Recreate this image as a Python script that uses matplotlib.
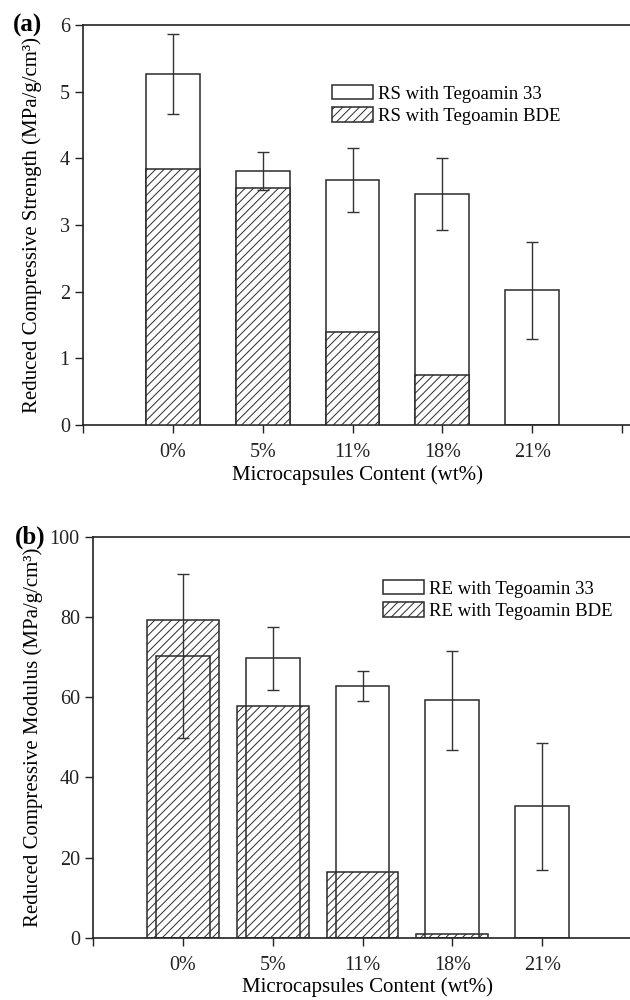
import numpy as np
import matplotlib
matplotlib.use("Agg")
import matplotlib.pyplot as plt

plt.rcParams['font.family'] = ['Liberation Serif', 'DejaVu Serif']
plt.rcParams['hatch.linewidth'] = 0.7

# ---- data ----
categories = ['0%', '5%', '11%', '18%', '21%']

rs_33 = [5.27, 3.81, 3.67, 3.47, 2.02]
rs_33_err = [0.60, 0.28, 0.48, 0.54, 0.73]
rs_bde = [3.84, 3.56, 1.40, 0.75]

re_33 = [70.3, 69.7, 62.8, 59.2, 32.8]
re_33_err = [20.4, 7.9, 3.7, 12.4, 15.8]
re_bde = [79.3, 57.8, 16.4, 1.0]

edge = '#2a2a2a'
x = np.arange(len(categories))

fig = plt.figure(figsize=(6.3, 10), dpi=100)


def style_axes(ax, ylim, yticks):
    ax.set_xlim(-1, 5.1)
    ax.set_ylim(*ylim)
    ax.set_yticks(yticks)
    ax.set_xticks(np.arange(-1, 6))
    ax.set_xticklabels([''] + categories + [''])
    ax.tick_params(direction='out', length=6, width=1, labelsize=14.5,
                   colors='#222222')
    ax.tick_params(axis='x', pad=7)
    ax.spines['right'].set_visible(False)
    for s in ['left', 'top', 'bottom']:
        ax.spines[s].set_linewidth(1.2)
        ax.spines[s].set_color('#222222')


# ==========================
# (a) compressive strength
# ==========================
ax1 = fig.add_axes([83 / 630, 0.575, 548 / 630, 0.40])
ax1.bar(x, rs_33, width=0.6, facecolor='white', edgecolor=edge,
        linewidth=1.1, label='RS with Tegoamin 33', zorder=2)
ax1.bar(x[:4], rs_bde, width=0.6, facecolor='white', edgecolor=edge,
        linewidth=1.1, hatch='////', label='RS with Tegoamin BDE', zorder=3)
ax1.errorbar(x, rs_33, yerr=rs_33_err, fmt='none', ecolor='#333333',
             elinewidth=1, capsize=4, capthick=1, zorder=4)
style_axes(ax1, (0, 6), np.arange(0, 7, 1))
ax1.set_xlabel('Microcapsules Content (wt%)', fontsize=15, va='center')
ax1.xaxis.set_label_coords(0.5, -0.125)
ax1.set_ylabel('Reduced Compressive Strength (MPa/g/cm³)', fontsize=15,
               va='center')
ax1.yaxis.set_label_coords(-0.093, 0.5)
ax1.legend(loc='upper left', bbox_to_anchor=(0.455, 0.85), frameon=False,
           fontsize=13.5, handlelength=2.15, handleheight=0.8,
           handletextpad=0.3, labelspacing=0.25, borderpad=0,
           borderaxespad=0)
fig.text(13 / 630, 1 - 25 / 1000, '(a)', fontsize=18, fontweight='bold',
         ha='left', va='center')

# ==========================
# (b) compressive modulus
# ==========================
ax2 = fig.add_axes([93 / 630, 0.0623, 548 / 630, 0.4007])
ax2.bar(x, re_33, width=0.6, facecolor='white', edgecolor=edge,
        linewidth=1.1, label='RE with Tegoamin 33', zorder=2)
ax2.bar(x[:4], re_bde, width=0.8, facecolor='none', edgecolor=edge,
        linewidth=1.1, hatch='////', label='RE with Tegoamin BDE', zorder=3)
ax2.errorbar(x, re_33, yerr=re_33_err, fmt='none', ecolor='#333333',
             elinewidth=1, capsize=4, capthick=1, zorder=4)
style_axes(ax2, (0, 100), np.arange(0, 101, 20))
ax2.set_xlabel('Microcapsules Content (wt%)', fontsize=15, va='center')
ax2.xaxis.set_label_coords(0.5, -0.123)
ax2.set_ylabel('Reduced Compressive Modulus (MPa/g/cm³)', fontsize=15,
               va='center')
ax2.yaxis.set_label_coords(-0.11, 0.5)
ax2.legend(loc='upper left', bbox_to_anchor=(0.53, 0.893), frameon=False,
           fontsize=13.5, handlelength=2.15, handleheight=0.8,
           handletextpad=0.3, labelspacing=0.25, borderpad=0,
           borderaxespad=0)
fig.text(15 / 630, 1 - 537 / 1000, '(b)', fontsize=18, fontweight='bold',
         ha='left', va='center')

fig.savefig('out.png', dpi=100, facecolor='white')
